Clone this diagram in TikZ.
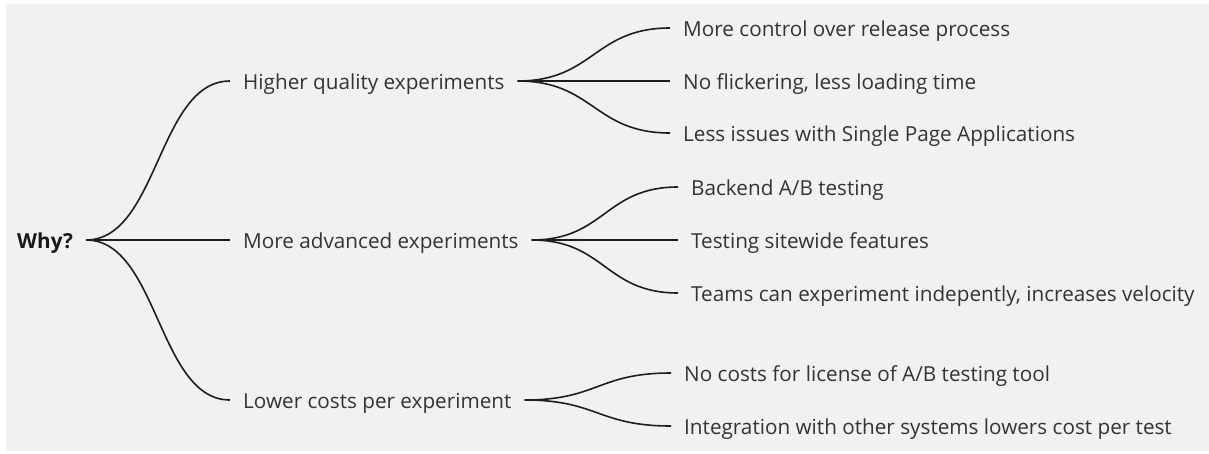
\documentclass[tikz,border=0pt]{standalone}
\usepackage{fontspec}
\setmainfont{Open Sans}
\usetikzlibrary{calc}
\definecolor{bggray}{RGB}{241,241,241}
\definecolor{textgray}{RGB}{52,52,56}
\definecolor{linegray}{RGB}{30,30,30}
\tikzset{
  item/.style={anchor=west,inner xsep=13pt,inner ysep=0pt,text height=22pt,text depth=5pt,
    text=textgray,font=\fontsize{20.7}{24}\selectfont},
  branch/.style={draw=linegray,line width=1.6pt},
  fork/.style={to path={.. controls ($(\tikztostart)!.5!(\tikztostart -| \tikztotarget)$)
    and ($(\tikztotarget)!.5!(\tikztotarget -| \tikztostart)$) .. (\tikztotarget)}}
}

\begin{document}
\begin{tikzpicture}[x=1pt,y=-1pt]
  \useasboundingbox (0,0) rectangle (1209,453);
  \fill[bggray] (6,4) rectangle (1209,451);

  \node[item,font=\fontsize{20.7}{24}\selectfont\bfseries,text=black!90] (why) at (4,240) {Why?};

  % first level
  \foreach \id/\y/\txt in {hq/81/Higher quality experiments,
                           ma/240/More advanced experiments,
                           lc/400/Lower costs per experiment} {
    \node[item] (\id) at (230,\y) {\txt};
    \draw[branch] (why.east) to[fork] (\id.west);
  }

  % second level
  \foreach \p/\x/\id/\y/\txt in {hq/670/hqa/28/More control over release process,
                                 hq/670/hqb/81/{No flickering, less loading time},
                                 hq/670/hqc/133/Less issues with Single Page Applications,
                                 ma/678/maa/187/{Backend A/B testing},
                                 ma/678/mab/240/Testing sitewide features,
                                 ma/678/mac/293/{Teams can experiment indepently, increases velocity},
                                 lc/671/lca/373/{No costs for license of A/B testing tool},
                                 lc/671/lcb/426/Integration with other systems lowers cost per test} {
    \node[item] (\id) at (\x,\y) {\txt};
    \draw[branch] (\p.east) to[fork] (\id.west);
  }
\end{tikzpicture}
\end{document}
